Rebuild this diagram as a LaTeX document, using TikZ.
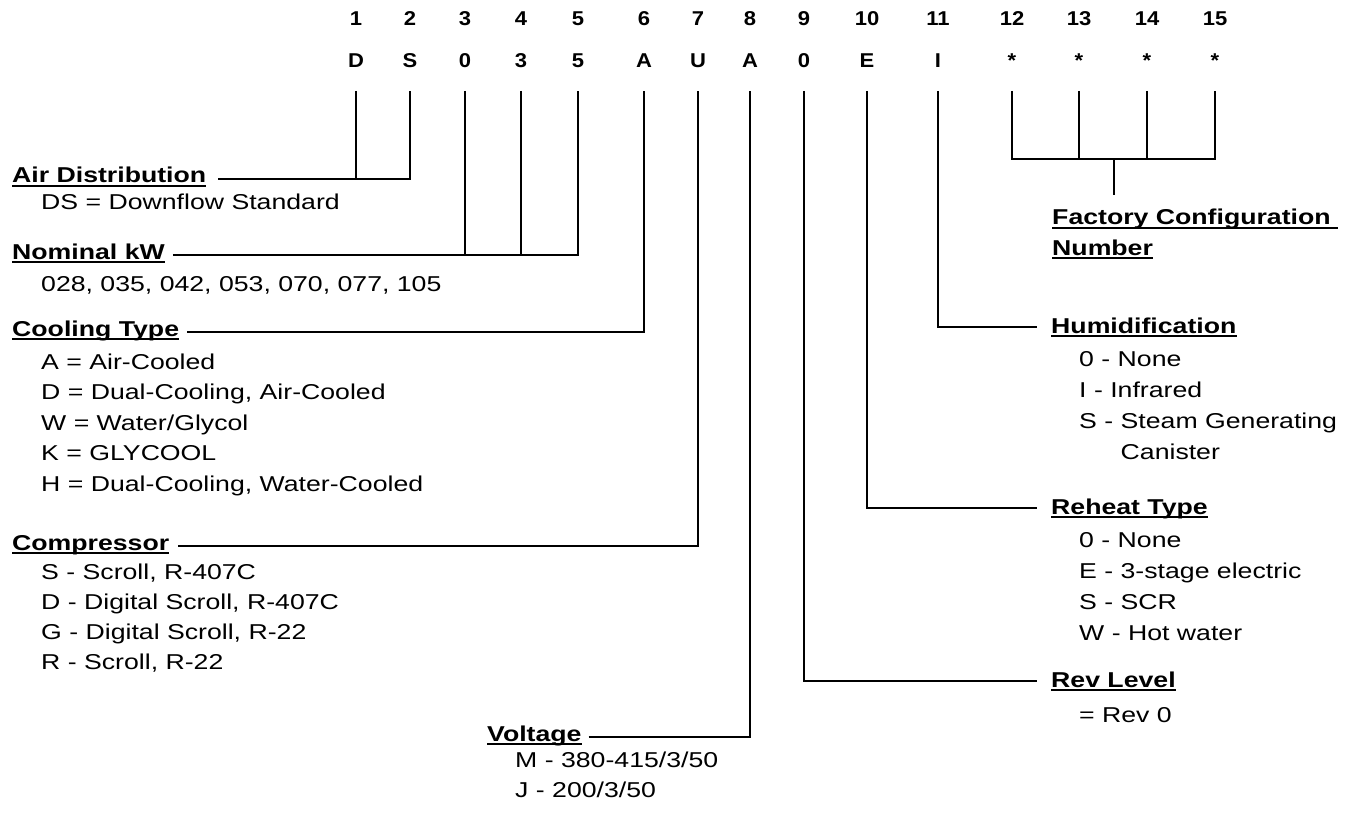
\documentclass[tikz,border=0pt]{standalone}
\usepackage{fontspec}
\setmainfont{Liberation Sans}[FakeStretch=1.24]
\newfontfamily\topfont{Liberation Sans}[FakeStretch=1.1]
\usetikzlibrary{calc}
\begin{document}
\begin{tikzpicture}[x=1pt,y=-1pt,
  conn/.style={line width=2.8pt, line join=miter},
  ul/.style={line width=1.8pt},
  num/.style={font=\topfont\fontsize{20}{20}\selectfont\bfseries, inner sep=0pt, anchor=base},
  head/.style={font=\fontsize{21.5}{21.5}\selectfont\bfseries, inner sep=0pt, anchor=base west},
  item/.style={font=\fontsize{21.5}{21.5}\selectfont, inner sep=0pt, anchor=base west}]
\useasboundingbox (0,0) rectangle (1349,813);

% code positions
\foreach \i/\x/\d/\c in {1/356/1/D, 2/410/2/S, 3/465/3/0, 4/521/4/3, 5/578/5/5,
  6/644/6/A, 7/698/7/U, 8/750/8/A, 9/804/9/0, 10/867/10/E, 11/938/11/I,
  12/1012/12/*, 13/1079/13/*, 14/1147/14/*, 15/1215/15/*}{
  \node[num] (n\i) at (\x,26) {\d};
  \node[num] (l\i) at (\x,68) {\c};
  \coordinate (t\i) at (\x,91);
}

% headings
\node[head] (hAir) at (12,183) {Air Distribution};
\node[head] (hNom) at (12,259) {Nominal kW};
\node[head] (hCool) at (12,336) {Cooling Type};
\node[head] (hComp) at (12,550) {Compressor};
\node[head] (hVolt) at (487,741) {Voltage};
\node[head] (hHum) at (1051,333) {Humidification};
\node[head] (hReh) at (1051,514) {Reheat Type};
\node[head] (hRev) at (1051,687) {Rev Level};
\node[head] (hFac) at (1052,225) {Factory Configuration\ \null};
\node[head] (hNum) at (1052,255) {Number};
\foreach \h in {hAir,hNom,hCool,hComp,hVolt,hHum,hReh,hRev,hFac,hNum}
  \draw[ul] ([yshift=-3pt]\h.base west) -- ([yshift=-3pt]\h.base east);

% items
\node[item] (iAir) at (41,210) {DS = Downflow Standard};
\node[item] (iNom) at (41,291) {028, 035, 042, 053, 070, 077, 105};
\foreach \k/\t in {0/{A = Air-Cooled}, 1/{D = Dual-Cooling, Air-Cooled}, 2/{W = Water/Glycol},
  3/{K = GLYCOOL}, 4/{H = Dual-Cooling, Water-Cooled}}
  \node[item] (iCool\k) at (41,369+30.5*\k) {\t};
\foreach \k/\t in {0/{S - Scroll, R-407C}, 1/{D - Digital Scroll, R-407C},
  2/{G - Digital Scroll, R-22}, 3/{R - Scroll, R-22}}
  \node[item] (iComp\k) at (41,579+30*\k) {\t};
\node[item] (iVolt0) at (515,767) {M - 380-415/3/50};
\node[item] (iVolt1) at (515,797) {J - 200/3/50};
\node[item] (iHum0) at (1079,366) {0 - None};
\node[item] (iHum1) at (1079,397) {I - Infrared};
\node[item] (iHum2) at (1079,428) {S - Steam Generating};
\node[item] (iHum3) at (1079,459) {\phantom{S - }Canister};
\node[item] (iReh0) at (1079,547) {0 - None};
\node[item] (iReh1) at (1079,578) {E - 3-stage electric};
\node[item] (iReh2) at (1079,609) {S - SCR};
\node[item] (iReh3) at (1079,640) {W - Hot water};
\node[item] (iRev0) at (1079,722) {= Rev 0};

% connector ends
\coordinate (eAir) at ($(hAir.base east)+(12,-4)$);
\coordinate (eNom) at ($(hNom.base east)+(8,-4)$);
\coordinate (eCool) at ($(hCool.base east)+(8,-4)$);
\coordinate (eComp) at ($(hComp.base east)+(9,-4)$);
\coordinate (eVolt) at ($(hVolt.base east)+(7,-4)$);
\coordinate (eHum) at ($(hHum.base west)+(-14,-6)$);
\coordinate (eReh) at ($(hReh.base west)+(-14,-6)$);
\coordinate (eRev) at ($(hRev.base west)+(-14,-6)$);
\coordinate (fbar) at (1114,159);
\coordinate (fstem) at (1114,195);

% connectors
\draw[conn] (t1) -- (t1 |- eAir);
\draw[conn] (eAir) -| (t2);
\draw[conn] (t3) -- (t3 |- eNom);
\draw[conn] (t4) -- (t4 |- eNom);
\draw[conn] (eNom) -| (t5);
\draw[conn] (eCool) -| (t6);
\draw[conn] (eComp) -| (t7);
\draw[conn] (eVolt) -| (t8);
\draw[conn] (t9) |- (eRev);
\draw[conn] (t10) |- (eReh);
\draw[conn] (t11) |- (eHum);
\draw[conn] (t12) |- (fbar) -| (t15);
\draw[conn] (t13) -- (t13 |- fbar);
\draw[conn] (t14) -- (t14 |- fbar);
\draw[conn] (fbar) -- (fstem);
\end{tikzpicture}
\end{document}
